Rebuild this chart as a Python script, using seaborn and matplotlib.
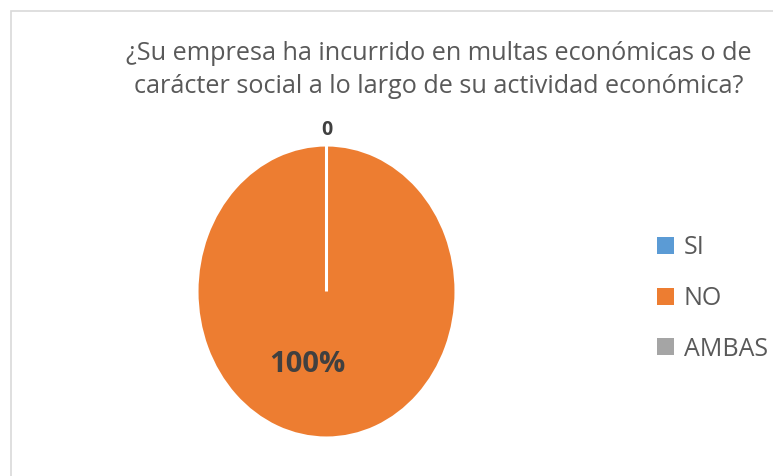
import matplotlib
matplotlib.use("Agg")
import matplotlib.pyplot as plt
import matplotlib.patches as mpatches
import seaborn as sns
import numpy as np

categories = ["SI", "NO", "AMBAS"]
values = [0, 100, 0]
colors = ["#5B9BD5", "#ED7D31", "#A5A5A5"]
title = "¿Su empresa ha incurrido en multas económicas o de\ncarácter social a lo largo de su actividad económica?"

sns.set_theme(style="white")
plt.rcParams["font.family"] = ["Open Sans", "DejaVu Sans"]

W, H = 773, 476
fig = plt.figure(figsize=(W / 100, H / 100), dpi=100)

# light border around the chart area (cut at right/bottom like the reference)
fig.patches.append(mpatches.Rectangle((10.5 / W, -0.1), 1.2, 1 - 10.5 / H + 0.1,
                                      transform=fig.transFigure, fill=False,
                                      edgecolor="#D9D9D9", linewidth=1.2))

# pie axes placed by pixel box (slightly taller than wide)
left, right, top, bottom = 197, 456, 145, 438
ax = fig.add_axes([left / W, 1 - bottom / H, (right - left) / W, (bottom - top) / H])
wedges, _ = ax.pie(values, colors=colors, startangle=90, counterclock=False,
                   radius=1, wedgeprops=dict(edgecolor="white", linewidth=2.2))
ax.set_aspect("auto")
ax.set_xlim(-1, 1)
ax.set_ylim(-1, 1)

# data labels
ax.text(0, 1.10, "0", ha="center", va="center", fontsize=14, fontweight="bold",
        color="#404040")
ax.text(-0.145, -0.5, f"{values[1]}%", ha="center", va="center", fontsize=21,
        fontweight="bold", color="#404040")

fig.text(439 / W, 1 - 70 / H, title, ha="center", va="center", fontsize=18.2,
         color="#595959", linespacing=1.38)

handles = [mpatches.Patch(facecolor=c, edgecolor="none") for c in colors]
leg = fig.legend(handles, categories, loc="upper left", bbox_to_anchor=(634 / W, 1 - 213 / H),
                 frameon=False, fontsize=18, labelcolor="#595959", handlelength=0.68,
                 handleheight=0.68, handletextpad=0.4, labelspacing=1.02)

fig.savefig("out.png", dpi=100)
